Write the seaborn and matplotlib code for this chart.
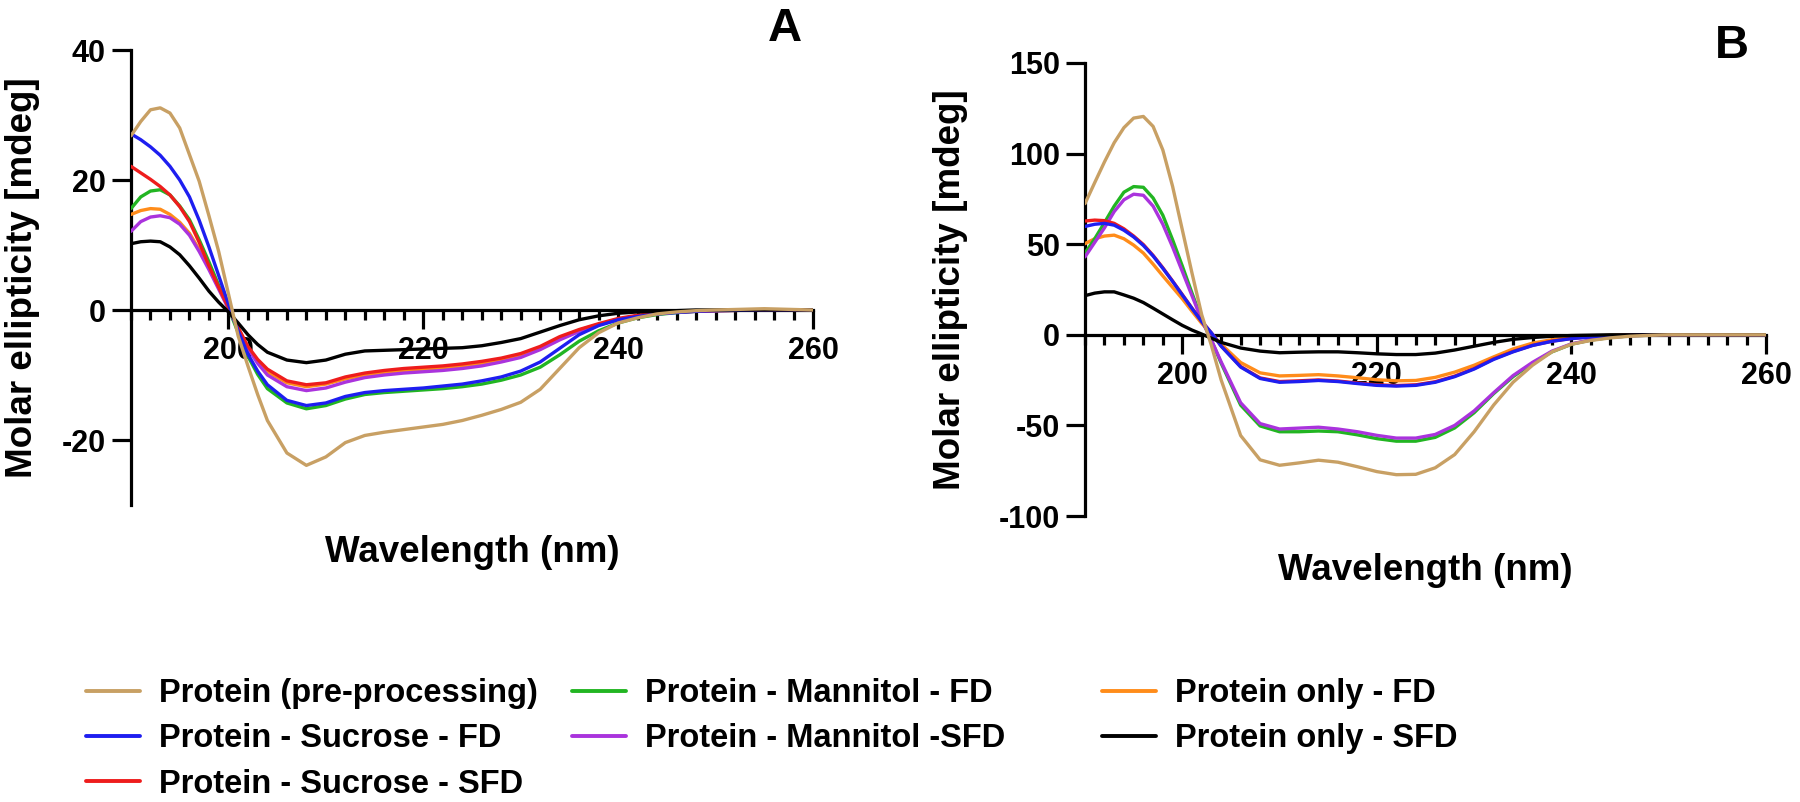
import pandas as pd
import matplotlib
matplotlib.use("Agg")
import matplotlib.pyplot as plt
import seaborn as sns
from matplotlib.ticker import FixedLocator, MultipleLocator
from matplotlib.lines import Line2D

# wavelength grid (nm)
wavelength = [190, 191, 192, 193, 194, 195, 196, 197, 198, 199, 200, 201, 202, 203, 204, 206, 208, 210,
              212, 214, 216, 218, 220, 222, 224, 226, 228, 230, 232, 234, 236, 238, 240,
              242, 244, 246, 248, 250, 255, 260]

names = ["Protein (pre-processing)", "Protein - Sucrose - FD", "Protein - Sucrose - SFD",
         "Protein - Mannitol - FD", "Protein - Mannitol -SFD", "Protein only - FD",
         "Protein only - SFD"]
colors = ["#C8A064", "#1E1EF0", "#EE1C1C", "#22B522", "#AA33DD", "#FF8C1A", "#000000"]

# panel A (mdeg)
a_pre = [26.8, 29.0, 30.8, 31.1, 30.3, 28.0, 23.9, 19.8, 14.5, 9.0, 2.5, -4.0, -8.6, -13.0, -17.0, -22.0, -23.9, -22.6,
         -20.4, -19.3, -18.8, -18.4, -18.0, -17.6, -17.0, -16.2, -15.3, -14.2, -12.2, -9.0, -5.8, -3.5, -2.0,
         -1.2, -0.6, -0.3, -0.1, 0.0, 0.2, 0.0]
a_suc_fd = [27.1, 26.2, 25.1, 23.8, 22.1, 20.0, 17.4, 13.8, 9.7, 5.3, 0.9, -3.2, -6.8, -9.4, -11.5, -13.9, -14.7, -14.3,
            -13.3, -12.7, -12.4, -12.2, -12.0, -11.7, -11.4, -10.9, -10.3, -9.4, -8.0, -5.9, -3.8, -2.4, -1.5,
            -1.0, -0.6, -0.4, -0.2, -0.1, 0.0, 0.0]
a_suc_sfd = [22.1, 21.1, 20.1, 19.0, 17.7, 15.9, 13.6, 10.4, 6.8, 3.5, 0.4, -2.7, -5.6, -7.6, -9.1, -10.9, -11.5, -11.2,
             -10.3, -9.7, -9.3, -9.0, -8.8, -8.6, -8.3, -7.9, -7.4, -6.7, -5.6, -4.1, -3.0, -2.1, -1.3,
             -0.8, -0.5, -0.3, -0.2, -0.1, 0.0, 0.0]
a_man_fd = [15.6, 17.4, 18.3, 18.5, 17.7, 16.0, 13.9, 10.8, 7.4, 3.8, 0.3, -3.5, -7.1, -9.9, -12.1, -14.3, -15.2, -14.7,
            -13.7, -13.0, -12.7, -12.5, -12.3, -12.1, -11.8, -11.4, -10.8, -10.0, -8.8, -6.9, -4.8, -3.2, -2.0,
            -1.2, -0.7, -0.4, -0.2, -0.1, 0.0, 0.0]
a_man_sfd = [12.1, 13.6, 14.3, 14.5, 14.2, 13.2, 11.5, 9.0, 6.2, 3.2, 0.2, -2.9, -5.9, -8.2, -10.0, -11.8, -12.4, -12.0,
             -11.1, -10.4, -10.0, -9.7, -9.5, -9.3, -9.0, -8.6, -8.0, -7.3, -6.1, -4.6, -3.3, -2.3, -1.5,
             -0.9, -0.6, -0.3, -0.2, -0.1, 0.0, 0.0]
a_only_fd = [14.7, 15.3, 15.6, 15.5, 14.7, 13.5, 11.8, 9.3, 6.5, 3.4, 0.3, -2.8, -5.8, -7.9, -9.5, -11.2, -11.8, -11.4,
             -10.6, -10.0, -9.6, -9.3, -9.1, -8.9, -8.6, -8.2, -7.7, -7.0, -5.8, -4.3, -3.1, -2.2, -1.4,
             -0.9, -0.5, -0.3, -0.2, -0.1, 0.0, 0.0]
a_only_sfd = [10.2, 10.5, 10.6, 10.5, 9.7, 8.5, 6.8, 4.9, 2.9, 1.2, -0.3, -2.0, -3.8, -5.3, -6.5, -7.7, -8.1, -7.7,
              -6.8, -6.3, -6.2, -6.1, -6.0, -5.9, -5.8, -5.5, -5.0, -4.4, -3.4, -2.4, -1.5, -0.9, -0.5,
              -0.3, -0.2, -0.1, 0.0, 0.0, 0.0, 0.0]

# panel B (mdeg)
b_pre = [72.4, 84.0, 95.4, 106.0, 114.3, 119.6, 120.5, 115.0, 102.0, 82.0, 58.0, 34.0, 11.0, -6.0, -25.0, -55.6, -69.0, -72.0,
         -70.7, -69.2, -70.3, -72.8, -75.5, -77.2, -77.0, -73.4, -66.1, -53.5, -38.8, -26.2, -16.8, -9.4, -5.2,
         -3.1, -1.7, -0.8, -0.3, 0.0, 0.0, 0.0]
b_suc_fd = [59.8, 61.0, 61.5, 60.5, 57.7, 54.0, 49.3, 43.5, 36.7, 29.5, 22.0, 14.5, 7.3, 1.0, -6.3, -17.8, -24.1, -26.2,
            -25.8, -25.2, -25.8, -26.9, -27.9, -28.3, -27.9, -26.2, -23.1, -18.9, -13.6, -9.4, -5.9, -3.6, -2.1,
            -1.2, -0.6, -0.2, 0.0, 0.0, 0.0, 0.0]
b_suc_sfd = [62.8, 63.3, 63.0, 61.5, 58.5, 54.5, 49.8, 43.8, 37.0, 29.7, 22.2, 14.7, 7.4, 1.0, -6.2, -17.5, -23.8, -25.8,
             -25.4, -24.9, -25.5, -26.6, -27.6, -28.0, -27.6, -25.9, -22.8, -18.6, -13.3, -9.2, -5.8, -3.5, -2.0,
             -1.1, -0.5, -0.2, 0.0, 0.0, 0.0, 0.0]
b_man_fd = [45.1, 53.0, 61.9, 71.0, 78.7, 81.8, 81.4, 75.5, 66.0, 52.5, 38.0, 23.0, 8.4, -3.1, -15.7, -38.8, -50.3, -53.5,
            -53.5, -53.1, -53.5, -55.2, -57.3, -58.7, -58.7, -56.6, -51.4, -43.0, -32.5, -23.1, -15.7, -9.4, -5.2,
            -2.9, -1.5, -0.6, -0.2, 0.0, 0.0, 0.0]
b_man_sfd = [43.0, 51.0, 59.0, 68.0, 74.5, 77.6, 77.0, 71.0, 61.0, 48.5, 35.0, 21.5, 8.0, -3.0, -15.0, -37.5, -49.0, -52.0,
             -51.5, -51.0, -52.0, -53.5, -55.5, -57.0, -57.0, -55.0, -50.0, -42.0, -32.0, -22.5, -15.2, -9.0, -5.0,
             -2.8, -1.4, -0.6, -0.2, 0.0, 0.0, 0.0]
b_only_fd = [50.3, 53.0, 54.5, 55.0, 53.0, 49.5, 45.1, 39.0, 32.5, 26.2, 19.9, 13.0, 6.3, 0.5, -5.2, -15.3, -21.0, -22.7,
             -22.4, -22.0, -22.7, -23.7, -24.8, -25.4, -25.2, -23.5, -20.6, -16.8, -12.2, -7.8, -4.6, -2.7, -1.5,
             -0.8, -0.3, 0.0, 0.0, 0.0, 0.0, 0.0]
b_only_sfd = [21.6, 23.0, 23.7, 23.7, 22.0, 20.2, 17.8, 14.7, 11.5, 8.3, 5.2, 2.6, 0.4, -1.9, -4.2, -7.3, -9.0, -9.9,
              -9.6, -9.4, -9.4, -9.9, -10.5, -10.9, -10.9, -10.1, -8.4, -6.3, -4.2, -2.5, -1.5, -0.8, -0.4,
              -0.2, 0.0, 0.0, 0.0, 0.0, 0.0, 0.0]

panel_a = [a_pre, a_suc_fd, a_suc_sfd, a_man_fd, a_man_sfd, a_only_fd, a_only_sfd]
panel_b = [b_pre, b_suc_fd, b_suc_sfd, b_man_fd, b_man_sfd, b_only_fd, b_only_sfd]

# drawing order (last one on top)
draw_order = [names[5], names[3], names[4], names[2], names[1], names[6], names[0]]
palette = dict(zip(names, colors))


def to_long(series_list):
    frames = []
    for name, vals in zip(names, series_list):
        frames.append(pd.DataFrame({"wl": wavelength, "val": vals, "sample": name}))
    return pd.concat(frames, ignore_index=True)


sns.set_style("ticks")
plt.rcParams['font.family'] = ['Liberation Sans', 'DejaVu Sans']
plt.rcParams['font.weight'] = 'bold'
plt.rcParams['axes.labelweight'] = 'bold'
plt.rcParams['axes.unicode_minus'] = False
for key in ['text.color', 'axes.labelcolor', 'xtick.color', 'ytick.color', 'axes.edgecolor']:
    plt.rcParams[key] = 'black'

fig = plt.figure(figsize=(18, 8.02), dpi=100)
ax_a = fig.add_axes([131 / 1800, 1 - 505 / 802, 682 / 1800, 455 / 802])
ax_b = fig.add_axes([1085 / 1800, 1 - 516 / 802, 681 / 1800, 453 / 802])


def draw_panel(ax, series_list, ylim, yticks, ylabel_x, letter, letter_xy):
    df = to_long(series_list)
    sns.lineplot(data=df, x="wl", y="val", hue="sample", hue_order=draw_order,
                 palette=palette, estimator=None, sort=False, linewidth=2.4,
                 legend=False, ax=ax, zorder=3)
    ax.set_xlim(190, 260)
    ax.set_ylim(*ylim)
    ax.xaxis.set_major_locator(FixedLocator([200, 220, 240, 260]))
    ax.xaxis.set_minor_locator(MultipleLocator(2))
    ax.yaxis.set_major_locator(FixedLocator(yticks))
    for s in ["top", "right"]:
        ax.spines[s].set_visible(False)
    ax.spines["bottom"].set_position(("data", 0))
    for s in ["left", "bottom"]:
        ax.spines[s].set_linewidth(2.3)
        ax.spines[s].set_color("black")
        ax.spines[s].set_zorder(2)
    ax.tick_params(axis="both", which="major", length=14, width=2.3, labelsize=22, color="black")
    ax.tick_params(axis="x", which="major", pad=5)
    ax.tick_params(axis="y", which="major", pad=4)
    ax.tick_params(axis="x", which="minor", length=7, width=2.3, color="black")
    for lab in ax.get_xticklabels() + ax.get_yticklabels():
        lab.set_fontweight("bold")
    ax.set_xlabel("")
    ax.set_ylabel("Molar ellipticity [mdeg]", fontsize=26.5, fontweight="bold")
    ax.yaxis.set_label_coords(ylabel_x, 0.5)
    fig.text(letter_xy[0] / 1800, 1 - letter_xy[1] / 802, letter, fontsize=34,
             fontweight="bold", ha="center", va="center")


draw_panel(ax_a, panel_a, (-30, 40), [-20, 0, 20, 40], -0.133, "A", (785, 29))
draw_panel(ax_b, panel_b, (-100, 150), [-100, -50, 0, 50, 100, 150], -0.172, "B", (1732, 46))

fig.text(472 / 1800, 1 - 552 / 802, "Wavelength (nm)", fontsize=26.5, fontweight="bold",
         ha="center", va="center")
fig.text(1425 / 1800, 1 - 570 / 802, "Wavelength (nm)", fontsize=26.5, fontweight="bold",
         ha="center", va="center")

# legend laid out as three columns placed under the panels
handles = [Line2D([], [], color=c, linewidth=2.8) for c in colors]
columns = [(0, 3, 86), (3, 5, 572), (5, 7, 1102)]
for start, stop, x_px in columns:
    fig.legend(handles[start:stop], names[start:stop], loc="upper left",
               bbox_to_anchor=(x_px / 1800, 1 - 678 / 802),
               frameon=False, fontsize=23.5, handlelength=1.65, handletextpad=0.6,
               labelspacing=0.44, borderpad=0, borderaxespad=0)

fig.savefig("out.png", dpi=100)
